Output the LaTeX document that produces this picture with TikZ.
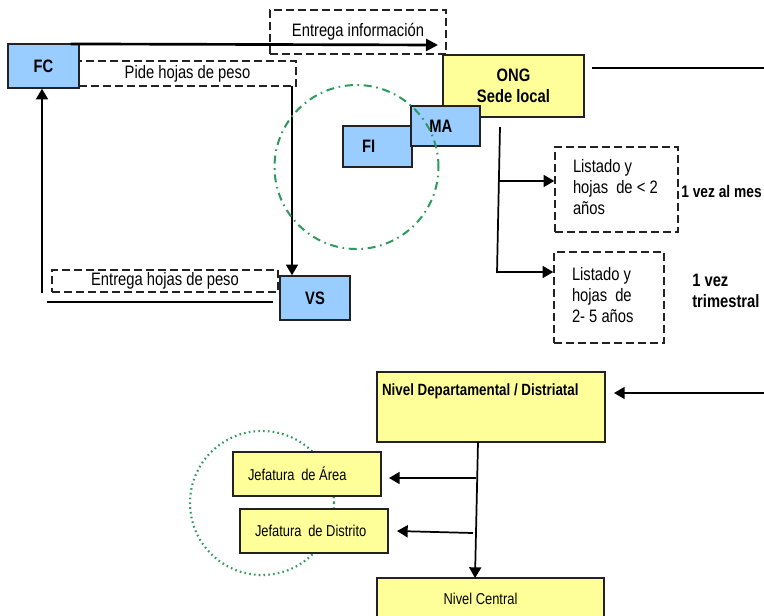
\documentclass[tikz,border=0pt]{standalone}
\usepackage{fontspec}
\setmainfont{Liberation Sans}[FakeStretch=0.82]
\usetikzlibrary{arrows.meta}
\definecolor{boxblue}{HTML}{99CCFF}
\definecolor{boxyellow}{HTML}{FFFF99}
\definecolor{circgreen}{HTML}{2E9B5E}
\definecolor{edge}{HTML}{222222}
\begin{document}
\begin{tikzpicture}[x=0.75pt,y=-0.75pt,
  big/.style={font=\fontsize{13.5}{15.5}\selectfont},
  small/.style={font=\fontsize{11.8}{14.5}\selectfont},
  bluebox/.style={draw=edge, fill=boxblue, line width=1.1pt, inner sep=0pt, font=\fontsize{13.5}{15.5}\selectfont\bfseries},
  yelbox/.style={draw=edge, fill=boxyellow, line width=1.1pt, inner sep=0pt},
  dbox/.style={draw=edge, dash pattern=on 6pt off 3pt, line width=1.1pt, inner sep=0pt},
  arr/.style={-{Triangle[length=8pt,width=9pt]}, line width=1.3pt},
  ln/.style={line width=1.3pt},
  dashdotc/.style={draw=circgreen, line width=1.5pt, dash pattern=on 6pt off 3.5pt on 1.2pt off 3.5pt},
  dottedc/.style={draw=circgreen, line width=1.6pt, dash pattern=on 1.2pt off 2.4pt}
]
\clip (0,0) rectangle (764,615);
\fill[white] (0,0) rectangle (764,615);

% dotted circle behind the lower boxes
\draw[dottedc] (262,503) circle[radius=54pt];

% top left part
\node[bluebox, minimum width=53.25pt, minimum height=33pt] (fc) at (43.5,66) {FC};
\node[dbox, big, minimum width=132pt, minimum height=33pt] (einfo) at (358,32) {\raisebox{1.5pt}{Entrega información}};
\node[dbox, big, minimum width=162.75pt, minimum height=18.75pt] (pide) at (187.5,73.5) {Pide hojas de peso};
\node[bluebox, minimum width=52.5pt, minimum height=33pt] (vs) at (315,298) {VS};
\node[dbox, big, minimum width=169.5pt, minimum height=16.5pt] (ehp) at (165,281) {Entrega hojas de peso};

\coordinate (einfoEnd) at (438,45);
\draw[-{Triangle[length=9pt,width=9pt]}, line width=2pt] ([xshift=-6.75pt,yshift=-0.5pt]fc.north east) -- (einfoEnd);
\coordinate (p1) at (292,86);
\draw[arr] (p1) -- (p1 |- vs.north);
\coordinate (h1) at (47,302);
\coordinate (h2) at (273,302);
\draw[ln] (h1) -- (h2);
\coordinate (v1) at (42,293);
\draw[arr] (v1) -- (v1 |- fc.south);

% ONG cluster
\node[yelbox, minimum width=105.75pt, minimum height=46.5pt, align=center, font=\fontsize{13.5}{15.75}\selectfont\bfseries] (ong) at (513.5,86) {ONG\\Sede local};
\node[bluebox, minimum width=51.75pt, minimum height=30.75pt] (fi) at (377.5,146.5) {\makebox[23.25pt][l]{FI}};
\node[bluebox, minimum width=51.75pt, minimum height=30pt] (ma) at (445.5,126) {\hspace*{-7pt}MA};

\draw[dashdotc] (356.5,167) circle[radius=61.5pt];

\coordinate (o1) at (592,68);
\coordinate (o2) at (764,68);
\draw[ln] (o1) -- (o2);

\node[dbox, big, minimum width=92.25pt, minimum height=63.75pt] (l1) at (616.5,189.5)
  {\makebox[65.25pt][l]{\begin{tabular}{@{}l@{}}Listado y\\hojas\hspace{6pt}de < 2\\años\end{tabular}}};
\node[dbox, big, minimum width=82.5pt, minimum height=68.25pt] (l2) at (609,297.5)
  {\makebox[55.5pt][l]{\begin{tabular}{@{}l@{}}Listado y\\hojas\hspace{6pt}de\\2- 5 años\end{tabular}}};

\coordinate (t1) at (500,127);
\coordinate (t2) at (497,273);
\draw[ln] (t1) -- (t2);
\coordinate (b1) at (499,181);
\draw[arr] (b1) -- (b1 -| l1.west);
\coordinate (b2) at (497,272);
\draw[arr] (b2) -- (b2 -| l2.west);

\node[anchor=west, inner sep=0pt, font=\fontsize{12.6}{15.5}\selectfont\bfseries] (mes) at (681,191) {1 vez al mes};
\node[anchor=west, inner sep=0pt, align=left, font=\fontsize{13.5}{15.75}\selectfont\bfseries] (tri) at (692,290.5) {1 vez\\trimestral};

% lower part
\node[yelbox, minimum width=171pt, minimum height=52.5pt,
  label={[anchor=center, xshift=-8pt, yshift=-15pt, font=\fontsize{12.2}{14.5}\selectfont\bfseries]north:Nivel Departamental / Distriatal}] (nd) at (491,407) {};
\node[yelbox, small, minimum width=111pt, minimum height=33pt] (ja) at (307,474) {\makebox[88.5pt][l]{Jefatura\hspace{5pt}de Área}};
\node[yelbox, small, minimum width=111pt, minimum height=33pt] (jd) at (314,531) {\makebox[88.5pt][l]{Jefatura\hspace{5pt}de Distrito}};
\node[yelbox, small, minimum width=170.25pt, minimum height=31.5pt] (nc) at (490.5,599) {\hspace*{-15pt}Nivel Central};

\coordinate (r1) at (764,393);
\coordinate (r2) at (614,393);
\draw[arr] (r1) -- (r2);
\coordinate (d1) at (478,442);
\coordinate (d2) at (475,578);
\draw[arr] (d1) -- (d2);
\coordinate (a1) at (476,478);
\coordinate (a2) at (389,478);
\draw[arr] (a1) -- (a2);
\coordinate (c1) at (473,533);
\coordinate (c2) at (397,531);
\draw[arr] (c1) -- (c2);
\end{tikzpicture}
\end{document}
